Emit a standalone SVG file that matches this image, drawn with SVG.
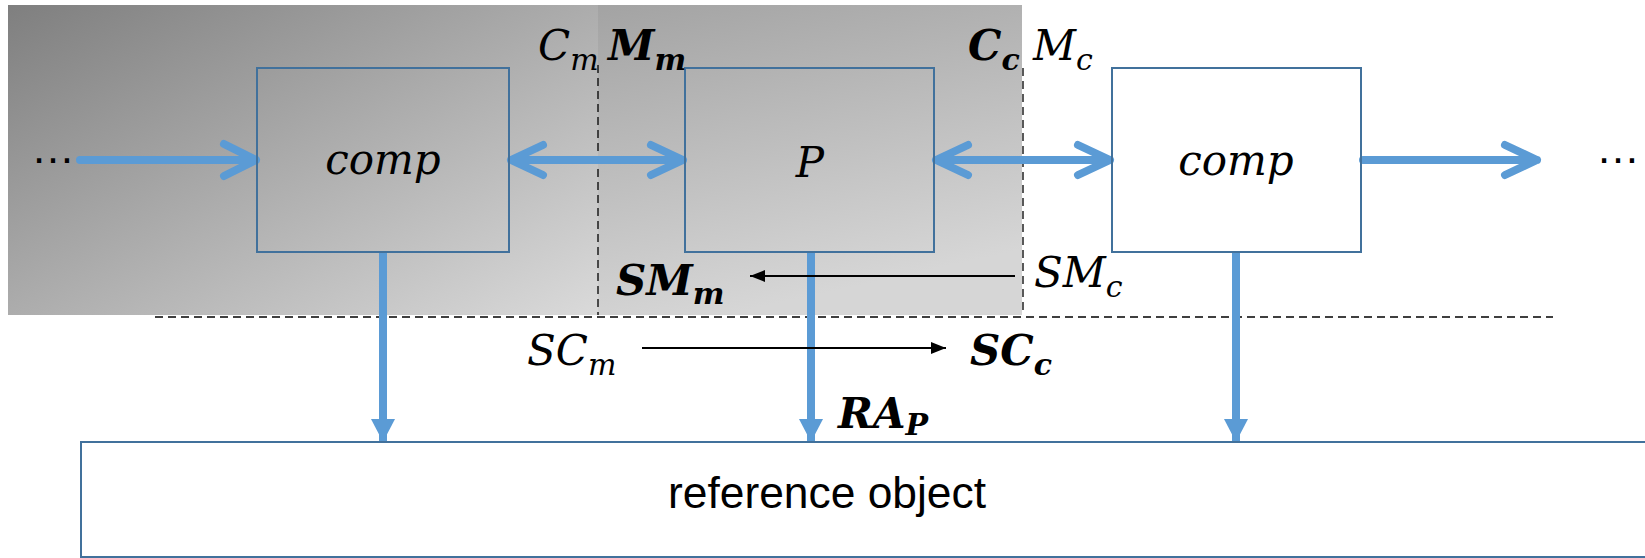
<svg xmlns="http://www.w3.org/2000/svg" width="1645" height="558" viewBox="0 0 1645 558">
<defs>
<linearGradient id="gLeft" x1="0" y1="0" x2="1" y2="1">
<stop offset="0" stop-color="#7f7f7f"/>
<stop offset="1" stop-color="#dadada"/>
</linearGradient>
<linearGradient id="gMid" x1="0" y1="0" x2="0.3" y2="1">
<stop offset="0" stop-color="#a3a3a3"/>
<stop offset="1" stop-color="#d6d6d6"/>
</linearGradient>
<marker id="tri" markerWidth="24" markerHeight="26" refX="23" refY="13" orient="auto" markerUnits="userSpaceOnUse">
<path d="M0,1 L23,13 L0,25 Z" fill="#5b9bd5"/>
</marker>
<marker id="blk" markerWidth="16" markerHeight="12" refX="15" refY="6" orient="auto" markerUnits="userSpaceOnUse">
<path d="M0,0 L15,6 L0,12 Z" fill="#000"/>
</marker>
</defs>
<style>
.box{fill:none;stroke:#41719c;stroke-width:2}
.flow{stroke:#5b9bd5;stroke-width:8;fill:none;stroke-linecap:round;stroke-linejoin:round}
.down{stroke:#5b9bd5;stroke-width:8;fill:none}
.dash{stroke:#000;stroke-width:1.3;stroke-dasharray:8,5;fill:none}
.thin{stroke:#000;stroke-width:2.2;fill:none}
.m{font-family:"DejaVu Serif",serif;font-style:italic;font-size:42px;fill:#000}
.mb{font-family:"DejaVu Serif",serif;font-style:italic;font-weight:bold;font-size:42px;fill:#000}
.sub{font-size:30px}
.t{font-family:"Liberation Sans",Arial,sans-serif;font-size:44px;fill:#000}
</style>

<g id="background">
<rect x="8" y="5" width="590" height="310" fill="url(#gLeft)"/>
<rect x="598" y="5" width="424" height="310" fill="url(#gMid)"/>
<line class="dash" x1="598" y1="65" x2="598" y2="315"/>
<line class="dash" x1="1023" y1="68" x2="1023" y2="315"/>
<line class="dash" x1="155" y1="317" x2="1553" y2="317"/>
</g>

<g id="connectors">
<path class="flow" d="M80,160 H256 M224,144 L256,160 L224,176"/>
<path class="flow" d="M511,160 H683 M543,145 L511,160 L543,175 M651,145 L683,160 L651,175"/>
<path class="flow" d="M936,160 H1110 M968,145 L936,160 L968,175 M1078,145 L1110,160 L1078,175"/>
<path class="flow" d="M1363,160 H1537 M1505,145 L1537,160 L1505,175"/>
<line class="down" x1="383" y1="253" x2="383" y2="442" marker-end="url(#tri)"/>
<line class="down" x1="811" y1="253" x2="811" y2="442" marker-end="url(#tri)"/>
<line class="down" x1="1236" y1="253" x2="1236" y2="442" marker-end="url(#tri)"/>
<line class="thin" x1="1015" y1="276" x2="750" y2="276" marker-end="url(#blk)"/>
<line class="thin" x1="642" y1="348" x2="946" y2="348" marker-end="url(#blk)"/>
</g>

<g id="node-comp1">
<rect class="box" x="257" y="68" width="252" height="184"/>
<text class="m" x="383" y="174" text-anchor="middle">comp</text>
</g>
<g id="node-P">
<rect class="box" x="685" y="68" width="249" height="184"/>
<text class="m" x="810" y="177" text-anchor="middle">P</text>
</g>
<g id="node-comp2">
<rect class="box" x="1112" y="68" width="249" height="184" fill="#fff"/>
<text class="m" x="1236" y="175" text-anchor="middle">comp</text>
</g>
<g id="node-reference">
<rect class="box" x="81" y="442" width="1600" height="115"/>
<text class="t" x="668" y="508" textLength="318" lengthAdjust="spacingAndGlyphs">reference object</text>
</g>

<g id="labels">
<text class="t" x="31" y="163" font-size="32">…</text>
<text class="t" x="1596" y="163" font-size="32">…</text>
<text class="m" x="538" y="60">C<tspan class="sub" dy="10">m</tspan></text>
<text class="mb" x="608" y="60">M<tspan class="sub" dy="10">m</tspan></text>
<text class="mb" x="968" y="60">C<tspan class="sub" dy="10">c</tspan></text>
<text class="m" x="1033" y="60">M<tspan class="sub" dy="10">c</tspan></text>
<text class="mb" x="616" y="295">SM<tspan class="sub" dy="9">m</tspan></text>
<text class="m" x="1034" y="287">SM<tspan class="sub" dy="10">c</tspan></text>
<text class="m" x="527" y="365">SC<tspan class="sub" dy="10">m</tspan></text>
<text class="mb" x="970" y="365">SC<tspan class="sub" dy="10">c</tspan></text>
<text class="mb" x="838" y="428">RA<tspan class="sub" dy="7">P</tspan></text>
</g>
</svg>
